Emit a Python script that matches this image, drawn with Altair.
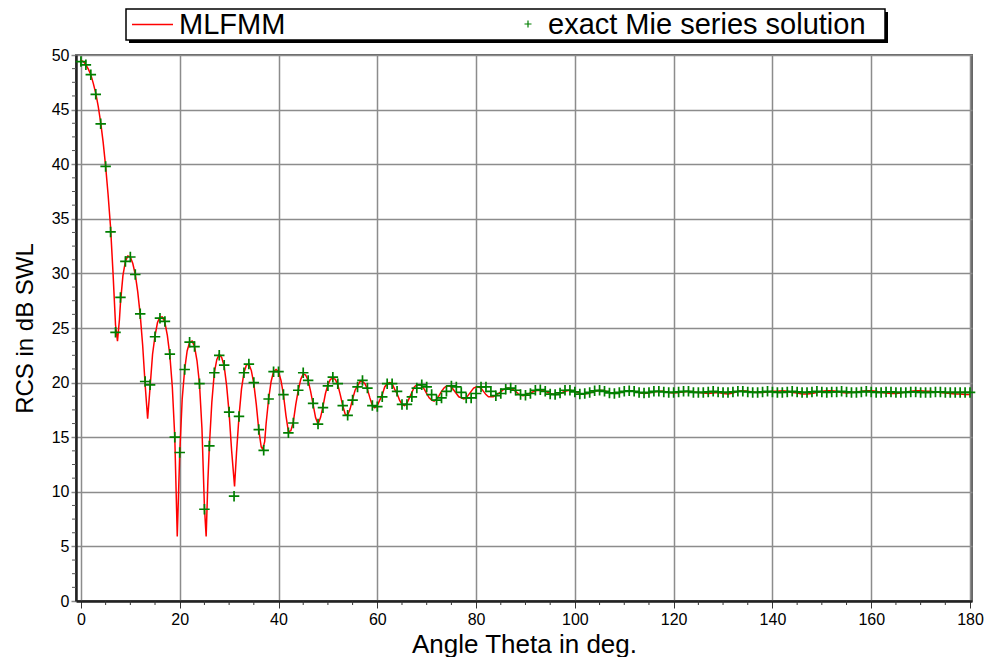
import altair as alt
import pandas as pd

# ---- data ----
mie_deg = list(range(0, 181))
mie_val = [
    49.4, 49.1, 48.2, 46.4, 43.7, 39.8, 33.8, 24.6, 27.8, 31.1,
    31.5, 29.9, 26.3, 20.1, 19.8, 24.2, 25.9, 25.6, 22.6, 15.0,
    13.6, 21.2, 23.7, 23.3, 19.9, 8.4, 14.2, 20.9, 22.5, 21.6,
    17.3, 9.6, 16.9, 20.9, 21.7, 20.0, 15.7, 13.8, 18.5, 21.0,
    21.0, 18.9, 15.4, 16.3, 19.3, 20.9, 20.2, 18.1, 16.2, 17.7,
    19.7, 20.5, 19.9, 17.9, 17.0, 18.4, 19.6, 20.2, 19.5, 17.9,
    17.8, 18.7, 19.9, 19.9, 19.2, 18.0, 18.0, 18.7, 19.5, 19.8,
    19.6, 18.9, 18.4, 18.6, 19.2, 19.7, 19.6, 19.1, 18.6, 18.6,
    19.0, 19.6, 19.6, 19.2, 18.8, 19.0, 19.4, 19.5, 19.3, 18.9,
    18.85, 19.0, 19.3, 19.35, 19.2, 18.95, 18.9, 19.05, 19.3, 19.3,
    19.15, 18.95, 19.0, 19.1, 19.25, 19.3, 19.2, 19.05, 19.0, 19.1,
    19.2, 19.25, 19.2, 19.1, 19.05, 19.1, 19.2, 19.2, 19.15, 19.1,
    19.1, 19.15, 19.2, 19.2, 19.1, 19.1, 19.1, 19.15, 19.2, 19.15,
    19.1, 19.1, 19.15, 19.2, 19.2, 19.15, 19.1, 19.1, 19.15, 19.2,
    19.15, 19.1, 19.1, 19.15, 19.2, 19.15, 19.1, 19.1, 19.15, 19.2,
    19.15, 19.1, 19.15, 19.15, 19.2, 19.15, 19.1, 19.1, 19.15, 19.2,
    19.15, 19.1, 19.1, 19.15, 19.15, 19.1, 19.1, 19.1, 19.15, 19.15,
    19.1, 19.1, 19.1, 19.15, 19.15, 19.1, 19.1, 19.1, 19.1, 19.1,
    19.1,
]

mlfmm_deg = [
    0, 0.5, 1, 1.5, 2, 2.5, 3, 3.5, 4, 4.5, 5, 5.5, 6, 6.5, 7, 7.4, 7.8, 8, 8.5, 9,
    9.5, 10, 10.5, 11, 11.5, 12, 12.5, 13, 13.5, 14, 14.5, 15, 15.5, 16, 16.5, 17,
    17.5, 18, 18.5, 19, 19.5, 20, 20.5, 21, 21.5, 22, 22.5, 23, 23.5, 24, 24.5, 25,
    25.35, 25.7, 26, 26.5, 27, 27.5, 28, 28.5, 29, 29.5, 30, 30.5, 31.1, 31.5, 32,
    32.5, 33, 33.5, 34, 34.5, 35, 35.5, 36, 36.5, 36.8, 37.2, 37.5, 38, 38.5, 39,
    39.5, 40, 40.5, 41, 41.5, 42, 42.5, 43, 43.5, 44, 44.5, 45, 45.5, 46, 46.5, 47,
    47.5, 48, 48.5, 49, 49.5, 50, 50.5, 51, 51.5, 52, 52.5, 53, 53.5, 54, 54.5, 55,
    55.5, 56, 56.5, 57, 57.5, 58, 58.5, 59, 59.5, 60, 60.5, 61, 61.5, 62, 62.5, 63,
    63.5, 64, 64.5, 65, 65.5, 66, 66.5, 67, 67.5, 68, 68.5, 69, 69.5, 70, 70.5, 71,
    71.5, 72, 72.5, 73, 73.5, 74, 74.5, 75, 75.5, 76, 76.5, 77, 77.5, 78, 78.5, 79,
    79.5, 80, 80.5, 81, 81.5, 82, 82.5, 83, 83.5, 84, 84.5, 85, 85.5, 86, 86.5, 87,
    87.5, 88, 88.5, 89, 89.5, 90,
    91, 92, 93, 94, 95, 96, 97, 98, 99, 100, 101, 102, 103, 104, 105, 106, 107, 108,
    109, 110, 111, 112, 113, 114, 115, 116, 117, 118, 119, 120, 121, 122, 123, 124,
    125, 126, 127, 128, 129, 130, 131, 132, 133, 134, 135, 136, 137, 138, 139, 140,
    141, 142, 143, 144, 145, 146, 147, 148, 149, 150, 151, 152, 153, 154, 155, 156,
    157, 158, 159, 160, 161, 162, 163, 164, 165, 166, 167, 168, 169, 170, 171, 172,
    173, 174, 175, 176, 177, 178, 179, 180,
]
mlfmm_val = [
    49.5, 49.4, 49.1, 48.7, 48.2, 47.4, 46.5, 45.3, 43.8, 42.0, 39.8, 37.2, 34.2, 30.0,
    25.3, 23.8, 25.8, 27.3, 29.8, 31.1,
    31.6, 31.5, 30.9, 29.9, 28.3, 26.2, 23.4, 19.8, 16.7, 19.6, 22.6, 24.3, 25.5, 26.0,
    26.0, 25.5,
    24.3, 22.5, 19.6, 15.0, 5.9, 13.5, 18.5, 21.2, 22.9, 23.7, 23.8, 23.3, 22.0, 19.9,
    15.8, 8.6,
    5.9, 11.0, 14.2, 18.2, 20.9, 22.1, 22.6, 22.3, 21.5, 19.7, 17.2, 13.8, 10.5, 13.6,
    16.9,
    19.4, 20.9, 21.6, 21.7, 21.1, 19.9, 18.0, 15.7, 14.1, 13.9, 14.6, 16.3, 18.5, 20.1,
    21.0,
    21.2, 21.0, 20.2, 18.9, 17.0, 15.5, 15.6, 16.4, 18.0, 19.3, 20.3, 20.8, 20.7, 20.2,
    19.2, 18.0,
    16.8, 16.2, 16.8, 17.8, 19.0, 19.8, 20.3, 20.4, 20.3, 19.8, 18.9, 17.9, 17.1, 17.0,
    17.6, 18.5,
    19.3, 19.7, 20.1, 20.1, 19.9, 19.4, 18.6, 17.9, 17.7, 17.9, 18.4, 18.9, 19.6, 19.9,
    20.0, 19.9,
    19.4, 19.0, 18.4, 18.0, 17.9, 18.1, 18.6, 19.1, 19.6, 19.8, 19.8, 19.7, 19.4, 19.0,
    18.6, 18.4,
    18.3, 18.5, 18.8, 19.2, 19.5, 19.7, 19.7, 19.6, 19.3, 19.0, 18.7, 18.6, 18.5, 18.6,
    18.9, 19.2,
    19.5, 19.6, 19.6, 19.5, 19.2, 18.9, 18.7, 18.7, 18.7, 18.85, 19.0, 19.15, 19.35,
    19.45, 19.5, 19.45,
    19.35, 19.2, 19.0, 18.85, 18.8, 18.85,
    19.05, 19.25, 19.3, 19.2, 19.0, 18.9, 19.0, 19.2, 19.3, 19.2, 19.0, 18.95, 19.05,
    19.2, 19.3, 19.25, 19.1, 19.0,
    19.05, 19.2, 19.25, 19.2, 19.1, 19.0, 19.05, 19.15, 19.2, 19.2, 19.1, 19.05, 19.1,
    19.15, 19.2, 19.15,
    19.1, 19.05, 19.0, 19.05, 19.1, 19.0, 18.95, 19.05, 19.2, 19.25, 19.2, 19.15, 19.1,
    19.1, 19.15, 19.2,
    19.2, 19.25, 19.2, 19.1, 19.05, 18.95, 18.95, 19.0, 19.1, 19.2, 19.25, 19.25, 19.2,
    19.1, 19.05, 19.1,
    19.15, 19.2, 19.25, 19.25, 19.2, 19.1, 19.05, 19.0, 19.0, 19.05, 19.15, 19.2, 19.25,
    19.25, 19.2, 19.2,
    19.15, 19.1, 19.05, 19.0, 18.95, 18.95, 18.9, 18.9,
]

x_major = list(range(0, 181, 20))
x_minor = [v for v in range(5, 181, 5) if v % 20 != 0]
y_major = list(range(0, 51, 5))
y_minor = [i * 1.25 for i in range(1, 40) if i % 4 != 0]

legend_labels = ["MLFMM", "exact Mie series solution"]

# ---- chart ----
W, H = 896, 546
LABEL_FONT = "Liberation Sans Narrow, Arial Narrow, Liberation Sans"
TITLE_FONT = "Liberation Sans, Arial"
GRID = "#8c8c8c"
PLUS = "M-1,0L1,0M0,-1L0,1"

xscale = alt.Scale(domain=[-1, 180.4], nice=False, zero=False)
yscale = alt.Scale(domain=[0, 50], nice=False, zero=False)

xaxis = alt.Axis(
    values=x_major, grid=True, gridColor=GRID, gridWidth=1.5, gridOpacity=1,
    tickSize=7, tickColor="#333333", tickWidth=1,
    domainColor="#222222", domainWidth=2.5,
    labelFont=LABEL_FONT, labelFontSize=16, labelColor="black", labelPadding=3,
    title="Angle Theta in deg.", titleFont=TITLE_FONT, titleFontSize=26,
    titleFontWeight="normal", titleColor="black", titlePadding=4,
)
yaxis = alt.Axis(
    values=y_major, grid=True, gridColor=GRID, gridWidth=1.5, gridOpacity=1,
    tickSize=5, tickColor=GRID, tickWidth=1.5,
    domainColor="#222222", domainWidth=2.5,
    labelFont=LABEL_FONT, labelFontSize=16, labelColor="black", labelPadding=2,
    title="RCS in dB SWL", titleFont=TITLE_FONT, titleFontSize=24,
    titleFontWeight="normal", titleColor="black", titlePadding=14,
)

df_red = pd.DataFrame({"deg": mlfmm_deg, "val": mlfmm_val})
df_mie = pd.DataFrame({"deg": mie_deg, "val": mie_val})
df_xmin = pd.DataFrame({"deg": x_minor})
df_ymin = pd.DataFrame({"val": y_minor})
one = pd.DataFrame({"k": [0]})

X = alt.X("deg:Q", scale=xscale, axis=xaxis)
Y = alt.Y("val:Q", scale=yscale, axis=yaxis)

red = alt.Chart(df_red).mark_line(color="#ff0000", strokeWidth=1.5, clip=True).encode(
    x=X, y=Y, order="deg:Q"
)
mie = alt.Chart(df_mie).mark_point(
    shape=PLUS, filled=False, stroke="#007f00", strokeWidth=1.7, size=110, opacity=1
).encode(x=X, y=Y)

xminor = alt.Chart(df_xmin).mark_rule(color="#333333", strokeWidth=1).encode(
    x=X, y=alt.value(H), y2=alt.value(H + 4)
)
yminor = alt.Chart(df_ymin).mark_rule(color="#555555", strokeWidth=1).encode(
    y=Y, x=alt.value(-4), x2=alt.value(0)
)

# legend box (drawn manually)
lg_shadow = alt.Chart(one).mark_rect(fill="black").encode(
    x=alt.value(53), x2=alt.value(812), y=alt.value(-43), y2=alt.value(-12)
)
lg_box = alt.Chart(one).mark_rect(fill="white", stroke="black", strokeWidth=1.5).encode(
    x=alt.value(50), x2=alt.value(809), y=alt.value(-46), y2=alt.value(-15)
)
lg_line = alt.Chart(one).mark_rule(color="#ff0000", strokeWidth=1.4).encode(
    x=alt.value(56), x2=alt.value(97), y=alt.value(-30.5)
)
lg_plus = alt.Chart(one).mark_point(
    shape=PLUS, filled=False, stroke="#007f00", strokeWidth=1.2, size=49, opacity=1
).encode(x=alt.value(452), y=alt.value(-31))
lg_t1 = alt.Chart(one).mark_text(
    align="left", baseline="alphabetic", font=TITLE_FONT, fontSize=29, color="black"
).encode(x=alt.value(103), y=alt.value(-21.5), text=alt.value(legend_labels[0]))
lg_t2 = alt.Chart(one).mark_text(
    align="left", baseline="alphabetic", font=TITLE_FONT, fontSize=29, color="black"
).encode(x=alt.value(472), y=alt.value(-21.5), text=alt.value(legend_labels[1]))

chart = alt.layer(
    red, mie, xminor, yminor, lg_shadow, lg_box, lg_line, lg_plus, lg_t1, lg_t2
).properties(
    width=W, height=H,
    autosize=alt.AutoSizeParams(type="none"),
    padding={"left": 68, "top": 47, "right": 12, "bottom": 56},
    background="white",
).configure_view(stroke="#666666", strokeWidth=2)

chart.save("out.html", embed_options={"renderer": "svg", "actions": False})
